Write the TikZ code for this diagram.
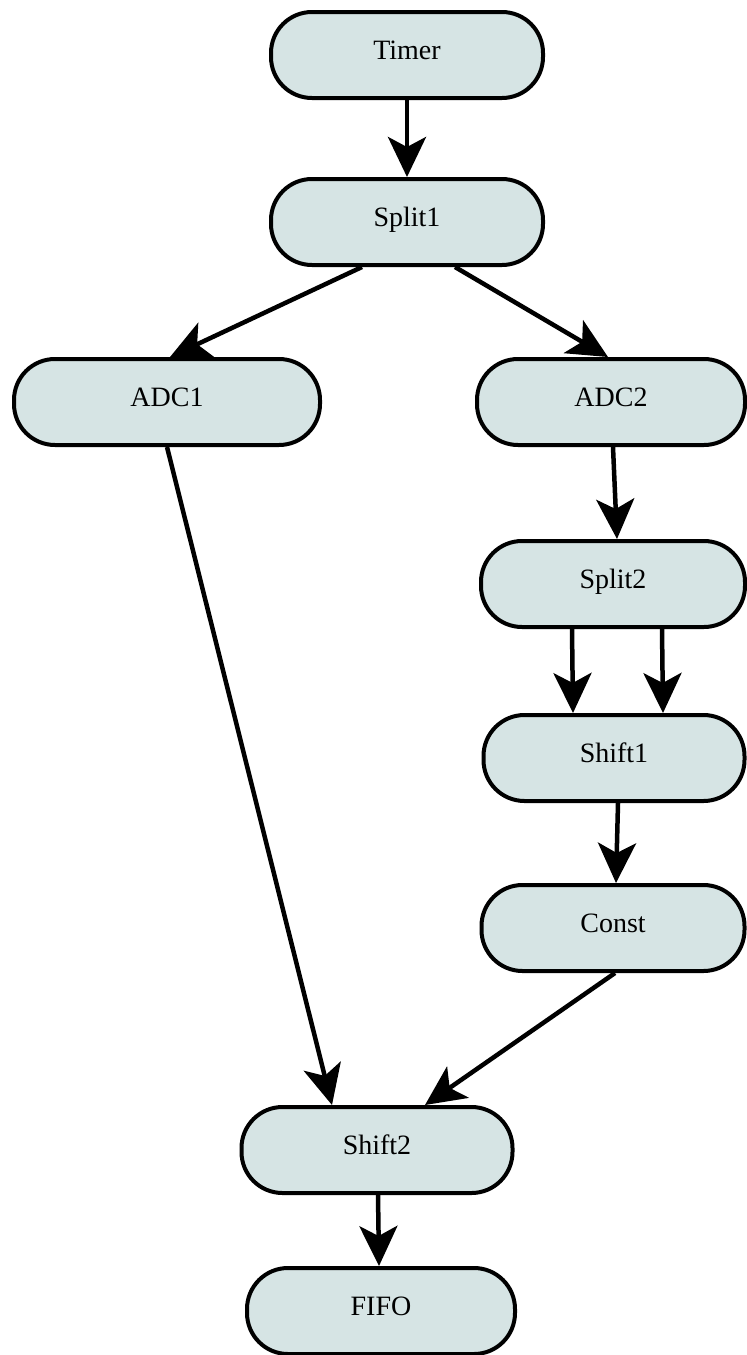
\documentclass[tikz,border=0pt]{standalone}
\usepackage{fontspec}
\setmainfont{Liberation Serif}
\usetikzlibrary{arrows.meta}
\definecolor{boxfill}{RGB}{214,228,228}
\begin{document}
\begin{tikzpicture}[x=1pt,y=1pt,
  block/.style={draw=black, line width=4pt, fill=boxfill, rounded corners=41pt,
    minimum height=86pt, inner sep=0pt, text height=20pt, text depth=12pt,
    font=\fontsize{28}{30}\selectfont},
  edge/.style={line width=4.5pt, -{Stealth[length=40pt,width=38pt,inset=10pt]}}]
\useasboundingbox (0,0) rectangle (747,-1355);
% blocks
\node[block, minimum width=272pt] (Timer)  at (407,-55)   {Timer};
\node[block, minimum width=272pt] (Split1) at (407,-222)  {Split1};
\node[block, minimum width=306pt] (ADC1)   at (167,-402)  {ADC1};
\node[block, minimum width=268pt] (ADC2)   at (611,-402)  {ADC2};
\node[block, minimum width=264pt] (Split2) at (613,-584)  {Split2};
\node[block, minimum width=261pt] (Shift1) at (614,-758)  {Shift1};
\node[block, minimum width=263pt] (Const)  at (613,-928)  {Const};
\node[block, minimum width=271pt] (Shift2) at (377,-1150) {Shift2};
\node[block, minimum width=268pt] (FIFO)   at (381,-1311) {FIFO};
% connections
\draw[edge] (Timer.south) -- (Split1.north);
\draw[edge] ([xshift=-45pt]Split1.south) -- ([xshift=3pt]ADC1.north);
\draw[edge] ([xshift=48pt]Split1.south) -- ([xshift=-3pt]ADC2.north);
\draw[edge] ([xshift=2pt]ADC2.south) -- ([xshift=4pt]Split2.north);
\draw[edge] ([xshift=-41pt]Split2.south) -- ([xshift=-41pt]Shift1.north);
\draw[edge] ([xshift=49pt]Split2.south) -- ([xshift=49pt]Shift1.north);
\draw[edge] ([xshift=4pt]Shift1.south) -- ([xshift=3pt]Const.north);
\draw[edge] (ADC1.south) -- ([xshift=-45pt]Shift2.north);
\draw[edge] ([xshift=2pt]Const.south) -- ([xshift=48pt]Shift2.north);
\draw[edge] ([xshift=1pt]Shift2.south) -- ([xshift=-2pt]FIFO.north);
\end{tikzpicture}
\end{document}
